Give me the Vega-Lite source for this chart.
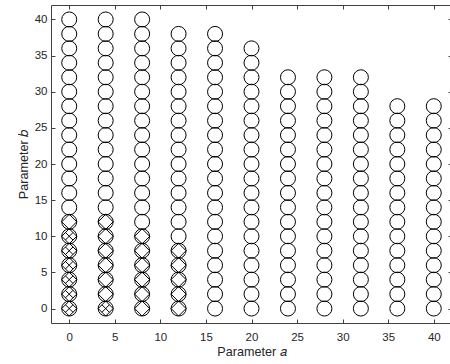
{
  "$schema": "https://vega.github.io/schema/vega-lite/v6.json",
  "autosize": "none",
  "padding": {"left": 51, "top": 5, "right": 0, "bottom": 41},
  "width": 401,
  "height": 318,
  "config": {
    "view": {"stroke": "#404040", "strokeWidth": 1},
    "font": "Liberation Sans",
    "axis": {
      "grid": false,
      "domain": false,
      "tickSize": -4,
      "tickColor": "#404040",
      "labelColor": "#262626",
      "titleColor": "#262626",
      "labelFont": "Liberation Sans",
      "titleFont": "Liberation Sans",
      "labelFontSize": 11.5,
      "titleFontSize": 12.6,
      "titleFontWeight": "normal"
    }
  },
  "data": {"values": [
    {"a":0,"b":0,"m":"o"},{"a":0,"b":2,"m":"o"},{"a":0,"b":4,"m":"o"},{"a":0,"b":6,"m":"o"},{"a":0,"b":8,"m":"o"},{"a":0,"b":10,"m":"o"},{"a":0,"b":12,"m":"o"},{"a":0,"b":14,"m":"o"},{"a":0,"b":16,"m":"o"},{"a":0,"b":18,"m":"o"},{"a":0,"b":20,"m":"o"},{"a":0,"b":22,"m":"o"},{"a":0,"b":24,"m":"o"},{"a":0,"b":26,"m":"o"},{"a":0,"b":28,"m":"o"},{"a":0,"b":30,"m":"o"},{"a":0,"b":32,"m":"o"},{"a":0,"b":34,"m":"o"},{"a":0,"b":36,"m":"o"},{"a":0,"b":38,"m":"o"},{"a":0,"b":40,"m":"o"},
    {"a":4,"b":0,"m":"o"},{"a":4,"b":2,"m":"o"},{"a":4,"b":4,"m":"o"},{"a":4,"b":6,"m":"o"},{"a":4,"b":8,"m":"o"},{"a":4,"b":10,"m":"o"},{"a":4,"b":12,"m":"o"},{"a":4,"b":14,"m":"o"},{"a":4,"b":16,"m":"o"},{"a":4,"b":18,"m":"o"},{"a":4,"b":20,"m":"o"},{"a":4,"b":22,"m":"o"},{"a":4,"b":24,"m":"o"},{"a":4,"b":26,"m":"o"},{"a":4,"b":28,"m":"o"},{"a":4,"b":30,"m":"o"},{"a":4,"b":32,"m":"o"},{"a":4,"b":34,"m":"o"},{"a":4,"b":36,"m":"o"},{"a":4,"b":38,"m":"o"},{"a":4,"b":40,"m":"o"},
    {"a":8,"b":0,"m":"o"},{"a":8,"b":2,"m":"o"},{"a":8,"b":4,"m":"o"},{"a":8,"b":6,"m":"o"},{"a":8,"b":8,"m":"o"},{"a":8,"b":10,"m":"o"},{"a":8,"b":12,"m":"o"},{"a":8,"b":14,"m":"o"},{"a":8,"b":16,"m":"o"},{"a":8,"b":18,"m":"o"},{"a":8,"b":20,"m":"o"},{"a":8,"b":22,"m":"o"},{"a":8,"b":24,"m":"o"},{"a":8,"b":26,"m":"o"},{"a":8,"b":28,"m":"o"},{"a":8,"b":30,"m":"o"},{"a":8,"b":32,"m":"o"},{"a":8,"b":34,"m":"o"},{"a":8,"b":36,"m":"o"},{"a":8,"b":38,"m":"o"},{"a":8,"b":40,"m":"o"},
    {"a":12,"b":0,"m":"o"},{"a":12,"b":2,"m":"o"},{"a":12,"b":4,"m":"o"},{"a":12,"b":6,"m":"o"},{"a":12,"b":8,"m":"o"},{"a":12,"b":10,"m":"o"},{"a":12,"b":12,"m":"o"},{"a":12,"b":14,"m":"o"},{"a":12,"b":16,"m":"o"},{"a":12,"b":18,"m":"o"},{"a":12,"b":20,"m":"o"},{"a":12,"b":22,"m":"o"},{"a":12,"b":24,"m":"o"},{"a":12,"b":26,"m":"o"},{"a":12,"b":28,"m":"o"},{"a":12,"b":30,"m":"o"},{"a":12,"b":32,"m":"o"},{"a":12,"b":34,"m":"o"},{"a":12,"b":36,"m":"o"},{"a":12,"b":38,"m":"o"},
    {"a":16,"b":0,"m":"o"},{"a":16,"b":2,"m":"o"},{"a":16,"b":4,"m":"o"},{"a":16,"b":6,"m":"o"},{"a":16,"b":8,"m":"o"},{"a":16,"b":10,"m":"o"},{"a":16,"b":12,"m":"o"},{"a":16,"b":14,"m":"o"},{"a":16,"b":16,"m":"o"},{"a":16,"b":18,"m":"o"},{"a":16,"b":20,"m":"o"},{"a":16,"b":22,"m":"o"},{"a":16,"b":24,"m":"o"},{"a":16,"b":26,"m":"o"},{"a":16,"b":28,"m":"o"},{"a":16,"b":30,"m":"o"},{"a":16,"b":32,"m":"o"},{"a":16,"b":34,"m":"o"},{"a":16,"b":36,"m":"o"},{"a":16,"b":38,"m":"o"},
    {"a":20,"b":0,"m":"o"},{"a":20,"b":2,"m":"o"},{"a":20,"b":4,"m":"o"},{"a":20,"b":6,"m":"o"},{"a":20,"b":8,"m":"o"},{"a":20,"b":10,"m":"o"},{"a":20,"b":12,"m":"o"},{"a":20,"b":14,"m":"o"},{"a":20,"b":16,"m":"o"},{"a":20,"b":18,"m":"o"},{"a":20,"b":20,"m":"o"},{"a":20,"b":22,"m":"o"},{"a":20,"b":24,"m":"o"},{"a":20,"b":26,"m":"o"},{"a":20,"b":28,"m":"o"},{"a":20,"b":30,"m":"o"},{"a":20,"b":32,"m":"o"},{"a":20,"b":34,"m":"o"},{"a":20,"b":36,"m":"o"},
    {"a":24,"b":0,"m":"o"},{"a":24,"b":2,"m":"o"},{"a":24,"b":4,"m":"o"},{"a":24,"b":6,"m":"o"},{"a":24,"b":8,"m":"o"},{"a":24,"b":10,"m":"o"},{"a":24,"b":12,"m":"o"},{"a":24,"b":14,"m":"o"},{"a":24,"b":16,"m":"o"},{"a":24,"b":18,"m":"o"},{"a":24,"b":20,"m":"o"},{"a":24,"b":22,"m":"o"},{"a":24,"b":24,"m":"o"},{"a":24,"b":26,"m":"o"},{"a":24,"b":28,"m":"o"},{"a":24,"b":30,"m":"o"},{"a":24,"b":32,"m":"o"},
    {"a":28,"b":0,"m":"o"},{"a":28,"b":2,"m":"o"},{"a":28,"b":4,"m":"o"},{"a":28,"b":6,"m":"o"},{"a":28,"b":8,"m":"o"},{"a":28,"b":10,"m":"o"},{"a":28,"b":12,"m":"o"},{"a":28,"b":14,"m":"o"},{"a":28,"b":16,"m":"o"},{"a":28,"b":18,"m":"o"},{"a":28,"b":20,"m":"o"},{"a":28,"b":22,"m":"o"},{"a":28,"b":24,"m":"o"},{"a":28,"b":26,"m":"o"},{"a":28,"b":28,"m":"o"},{"a":28,"b":30,"m":"o"},{"a":28,"b":32,"m":"o"},
    {"a":32,"b":0,"m":"o"},{"a":32,"b":2,"m":"o"},{"a":32,"b":4,"m":"o"},{"a":32,"b":6,"m":"o"},{"a":32,"b":8,"m":"o"},{"a":32,"b":10,"m":"o"},{"a":32,"b":12,"m":"o"},{"a":32,"b":14,"m":"o"},{"a":32,"b":16,"m":"o"},{"a":32,"b":18,"m":"o"},{"a":32,"b":20,"m":"o"},{"a":32,"b":22,"m":"o"},{"a":32,"b":24,"m":"o"},{"a":32,"b":26,"m":"o"},{"a":32,"b":28,"m":"o"},{"a":32,"b":30,"m":"o"},{"a":32,"b":32,"m":"o"},
    {"a":36,"b":0,"m":"o"},{"a":36,"b":2,"m":"o"},{"a":36,"b":4,"m":"o"},{"a":36,"b":6,"m":"o"},{"a":36,"b":8,"m":"o"},{"a":36,"b":10,"m":"o"},{"a":36,"b":12,"m":"o"},{"a":36,"b":14,"m":"o"},{"a":36,"b":16,"m":"o"},{"a":36,"b":18,"m":"o"},{"a":36,"b":20,"m":"o"},{"a":36,"b":22,"m":"o"},{"a":36,"b":24,"m":"o"},{"a":36,"b":26,"m":"o"},{"a":36,"b":28,"m":"o"},
    {"a":40,"b":0,"m":"o"},{"a":40,"b":2,"m":"o"},{"a":40,"b":4,"m":"o"},{"a":40,"b":6,"m":"o"},{"a":40,"b":8,"m":"o"},{"a":40,"b":10,"m":"o"},{"a":40,"b":12,"m":"o"},{"a":40,"b":14,"m":"o"},{"a":40,"b":16,"m":"o"},{"a":40,"b":18,"m":"o"},{"a":40,"b":20,"m":"o"},{"a":40,"b":22,"m":"o"},{"a":40,"b":24,"m":"o"},{"a":40,"b":26,"m":"o"},{"a":40,"b":28,"m":"o"},
    {"a":0,"b":0,"m":"d"},{"a":0,"b":2,"m":"d"},{"a":0,"b":4,"m":"d"},{"a":0,"b":6,"m":"d"},{"a":0,"b":8,"m":"d"},{"a":0,"b":10,"m":"d"},{"a":0,"b":12,"m":"d"},
    {"a":4,"b":0,"m":"d"},{"a":4,"b":2,"m":"d"},{"a":4,"b":4,"m":"d"},{"a":4,"b":6,"m":"d"},{"a":4,"b":8,"m":"d"},{"a":4,"b":10,"m":"d"},{"a":4,"b":12,"m":"d"},
    {"a":8,"b":0,"m":"d"},{"a":8,"b":2,"m":"d"},{"a":8,"b":4,"m":"d"},{"a":8,"b":6,"m":"d"},{"a":8,"b":8,"m":"d"},{"a":8,"b":10,"m":"d"},
    {"a":12,"b":0,"m":"d"},{"a":12,"b":2,"m":"d"},{"a":12,"b":4,"m":"d"},{"a":12,"b":6,"m":"d"},{"a":12,"b":8,"m":"d"},
    {"a":0,"b":0,"m":"x"},{"a":0,"b":2,"m":"x"},{"a":0,"b":4,"m":"x"},{"a":0,"b":6,"m":"x"},{"a":0,"b":8,"m":"x"},{"a":0,"b":10,"m":"x"},
    {"a":4,"b":0,"m":"x"}
  ]},
  "layer": [
    {
      "mark": {"type": "point", "filled": false, "color": "black", "strokeWidth": 1, "opacity": 1, "size": 225},
      "encoding": {
        "x": {"field": "a", "type": "quantitative", "scale": {"domain": [-2, 42], "nice": false, "zero": false},
              "axis": {"values": [0,5,10,15,20,25,30,35,40], "title": "Parameter 𝑎", "labelPadding": 12, "titlePadding": 3}},
        "y": {"field": "b", "type": "quantitative", "scale": {"domain": [-2, 42], "nice": false, "zero": false},
              "axis": {"values": [0,5,10,15,20,25,30,35,40], "title": "Parameter 𝑏", "labelPadding": 8, "titlePadding": 4}},
        "shape": {"field": "m", "type": "nominal", "legend": null,
                  "scale": {"domain": ["o", "d", "x"], "range": ["circle", "diamond", "M-0.5,-0.5L0.5,0.5M-0.5,0.5L0.5,-0.5"]}}
      }
    },
    {
      "mark": {"type": "point", "opacity": 0},
      "encoding": {
        "x": {"field": "a", "type": "quantitative",
              "axis": {"orient": "top", "values": [0,5,10,15,20,25,30,35,40], "labels": false, "title": null}},
        "y": {"field": "b", "type": "quantitative",
              "axis": {"orient": "right", "values": [0,5,10,15,20,25,30,35,40], "labels": false, "title": null}}
      }
    }
  ],
  "resolve": {"axis": {"x": "independent", "y": "independent"}}
}
